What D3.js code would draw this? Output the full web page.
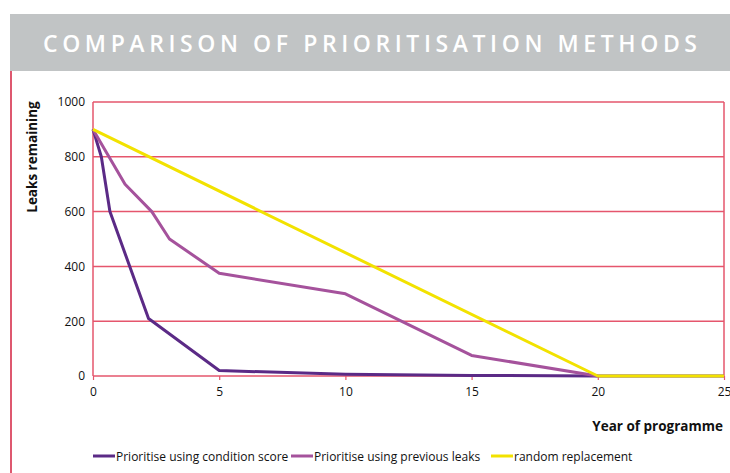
<!DOCTYPE html>
<html>
<head>
<meta charset="utf-8">
<script src="https://cdn.jsdelivr.net/npm/d3@7"></script>
<style>
	body { margin: 0; background: #fff; }
	svg { display: block; font-family: 'Open Sans', 'Noto Sans', sans-serif; }
</style>
</head>
<body>
<div id="chart"></div>
<script>
/***********************************************************************/
//Data
/***********************************************************************/
const title = 'COMPARISON OF PRIORITISATION METHODS'
const xTickValues = [0, 5, 10, 15, 20, 25]
const yTickValues = [0, 200, 400, 600, 800, 1000]

const conditionYears = [0, 0.33, 0.67, 2.2, 5, 10, 15, 20, 25]
const conditionLeaks = [900, 800, 600, 210, 20, 6, 2, 0, 0]

const leaksYears = [0, 1.27, 2.33, 3.03, 5, 10, 15, 20]
const leaksLeaks = [900, 700, 600, 500, 375, 300, 75, 0]

const randomYears = [0, 20, 25]
const randomLeaks = [900, 0, 0]

const seriesNames = ['Prioritise using condition score', 'Prioritise using previous leaks', 'random replacement']
const seriesColors = ['#5b2a86', '#a5529c', '#f2e200']

const series = [
	{ name : seriesNames[0], color : seriesColors[0], pts : conditionYears.map((x, i) => ({ x, y : conditionLeaks[i] })) },
	{ name : seriesNames[1], color : seriesColors[1], pts : leaksYears.map((x, i) => ({ x, y : leaksLeaks[i] })) },
	{ name : seriesNames[2], color : seriesColors[2], pts : randomYears.map((x, i) => ({ x, y : randomLeaks[i] })) }
]

/***********************************************************************/
//Dom
/***********************************************************************/
const width = 730
const height = 473
const margin = { left : 93, right : 6, top : 102, bottom : 97 }
const plotW = width - margin.left - margin.right
const plotH = height - margin.top - margin.bottom
const gridColor = '#e5566d'

const svg = d3.select('#chart').append('svg')
	.attr('width', width)
	.attr('height', height)

// title banner
svg.append('rect')
	.attr('x', 10).attr('y', 14)
	.attr('width', 720).attr('height', 57)
	.attr('fill', '#c1c4c5')

const titleText = svg.append('text')
	.attr('x', 43).attr('y', 52)
	.attr('fill', '#fff')
	.attr('font-size', '23px')
	.attr('font-weight', 600)
	.text(title)

// stretch the letter spacing so the title spans the same width as the original
const rawW = titleText.node().getComputedTextLength()
titleText.attr('letter-spacing', ((654 - rawW) / (title.length - 1)) + 'px')

svg.append('line')
	.attr('x1', 11).attr('x2', 11)
	.attr('y1', 71).attr('y2', height)
	.attr('stroke', '#d3203f')
	.attr('stroke-width', 1.5)

const g = svg.append('g')
	.attr('transform', `translate(${margin.left},${margin.top})`)

/***********************************************************************/
//Scale
/***********************************************************************/
const xScale = d3.scaleLinear().domain([0, 25]).range([0, plotW])
const yScale = d3.scaleLinear().domain([0, 1000]).range([plotH, 0])

/***********************************************************************/
//Axes
/***********************************************************************/
g.selectAll('.grid')
	.data(yTickValues)
	.join('line')
	.attr('class', 'grid')
	.attr('x1', 0).attr('x2', plotW)
	.attr('y1', d => yScale(d)).attr('y2', d => yScale(d))
	.attr('stroke', gridColor)
	.attr('stroke-width', 1.5)

g.append('line')
	.attr('x1', 0).attr('x2', 0).attr('y1', 0).attr('y2', plotH)
	.attr('stroke', gridColor).attr('stroke-width', 1.5)
g.append('line')
	.attr('x1', plotW).attr('x2', plotW).attr('y1', 0).attr('y2', plotH)
	.attr('stroke', gridColor).attr('stroke-width', 1.5)

const xAxis = d3.axisBottom(xScale)
	.tickValues(xTickValues)
	.tickFormat(d3.format('d'))
	.tickSize(4)
	.tickSizeOuter(0)
	.tickPadding(7)

const yAxis = d3.axisLeft(yScale)
	.tickValues(yTickValues)
	.tickFormat(d3.format('d'))
	.tickSize(0)
	.tickPadding(8)

const xAxisG = g.append('g')
	.attr('transform', `translate(0,${plotH})`)
	.call(xAxis)
xAxisG.select('.domain').remove()
xAxisG.selectAll('line').attr('stroke', gridColor).attr('stroke-width', 1.2)
xAxisG.selectAll('text').attr('font-size', '12px').attr('fill', '#111').attr('font-family', 'Open Sans, sans-serif')

const yAxisG = g.append('g').call(yAxis)
yAxisG.select('.domain').remove()
yAxisG.selectAll('text').attr('font-size', '12px').attr('fill', '#111').attr('font-family', 'Open Sans, sans-serif')

svg.append('text')
	.attr('x', 723).attr('y', 431)
	.attr('text-anchor', 'end')
	.attr('font-size', '13.5px')
	.attr('font-weight', 'bold')
	.attr('fill', '#111')
	.text('Year of programme')

svg.append('text')
	.attr('transform', 'translate(37,157) rotate(-90)')
	.attr('text-anchor', 'middle')
	.attr('font-size', '13.5px')
	.attr('font-weight', 'bold')
	.attr('fill', '#111')
	.text('Leaks remaining')

/***********************************************************************/
//Plotting
/***********************************************************************/
const line = d3.line()
	.x(d => xScale(d.x))
	.y(d => yScale(d.y))

g.selectAll('.series')
	.data(series)
	.join('path')
	.attr('class', 'series')
	.attr('fill', 'none')
	.attr('stroke', d => d.color)
	.attr('stroke-width', 3)
	.attr('stroke-linejoin', 'round')
	.attr('d', d => line(d.pts))

/***********************************************************************/
//Legend
/***********************************************************************/
const legendX = [93, 291, 491]
const legend = svg.selectAll('.legend')
	.data(series)
	.join('g')
	.attr('class', 'legend')
	.attr('transform', (d, i) => `translate(${legendX[i]},456)`)

legend.append('line')
	.attr('x1', 0).attr('x2', 22)
	.attr('stroke', d => d.color)
	.attr('stroke-width', 3)

legend.append('text')
	.attr('x', 23)
	.attr('y', 4.5)
	.attr('font-size', '12px')
	.attr('fill', '#111')
	.text(d => d.name)
</script>
</body>
</html>
